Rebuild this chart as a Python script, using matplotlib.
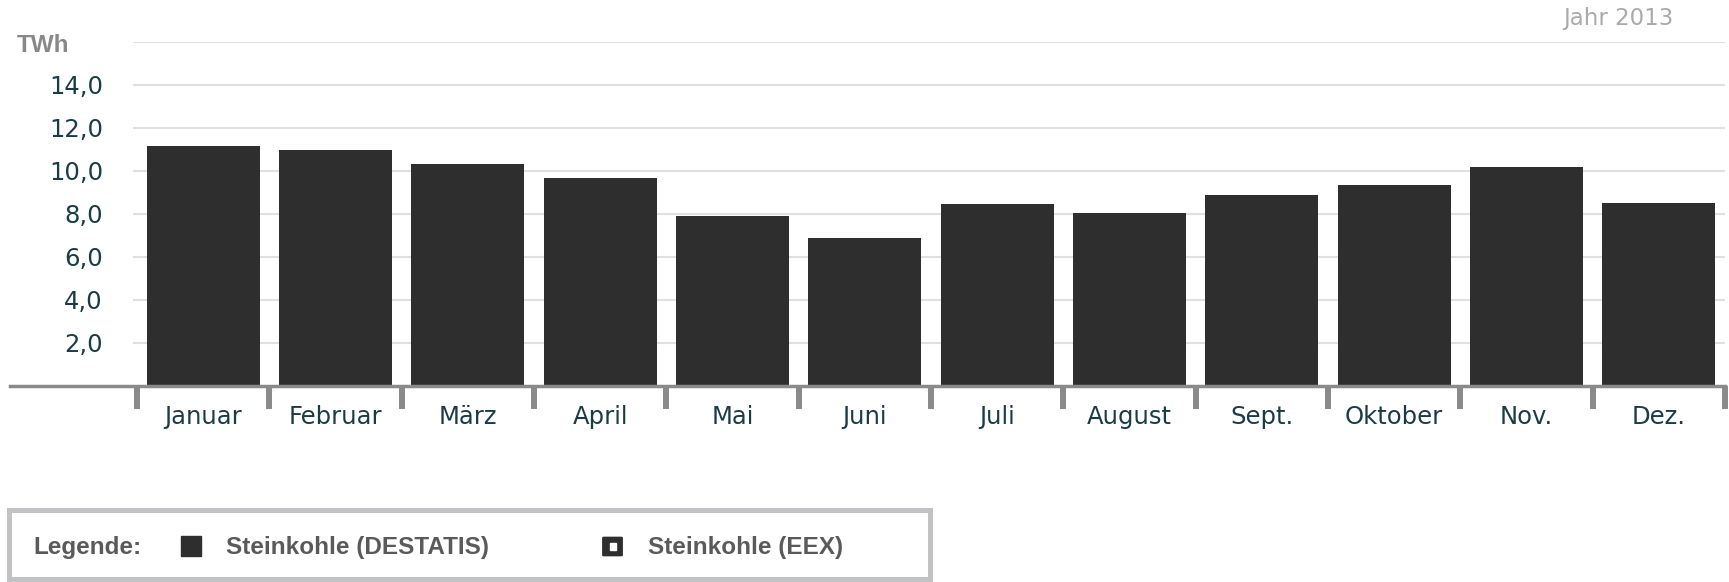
import matplotlib.pyplot as plt
from matplotlib.patches import Rectangle, FancyBboxPatch

# Steinkohle (DESTATIS), Jahr 2013, TWh
months = ["Januar", "Februar", "März", "April", "Mai", "Juni",
          "Juli", "August", "Sept.", "Oktober", "Nov.", "Dez."]
values = [11.16, 10.98, 10.33, 9.68, 7.91, 6.88,
          8.47, 8.05, 8.88, 9.35, 10.20, 8.49]
y_ticks = [2, 4, 6, 8, 10, 12, 14]
y_labels = ["2,0", "4,0", "6,0", "8,0", "10,0", "12,0", "14,0"]
legend_labels = ["Steinkohle (DESTATIS)", "Steinkohle (EEX)"]

W, H = 1729, 582
BAR = "#2e2e2e"
AXIS = "#8a8a8a"
GRID = "#e0e0e0"
TEAL = "#1b3c46"


def fx(px):
    return px / W


def fy(px):
    return 1 - px / H


fig = plt.figure(figsize=(W / 100, H / 100), dpi=100)

# axes: axis line runs from x=9.6 px to 1725 px, zero at y=386, 16 at y=42
ax = fig.add_axes([fx(9.6), fy(386), fx(1725 - 9.6), (386 - 42) / H])
cat_w = (1725 - 137) / 12
ax.set_xlim(-0.5 - (137 - 9.6) / cat_w, 11.5)
ax.set_ylim(0, 16)

# gridlines
ax.hlines(y_ticks + [16], -0.5 - 4 / cat_w, 11.5, colors=GRID, lw=1.5, zorder=0)

x = list(range(len(months)))
ax.bar(x, values, width=0.855, color=BAR, zorder=2)

for s in ["top", "right", "left"]:
    ax.spines[s].set_visible(False)
ax.spines["bottom"].set_color(AXIS)
ax.spines["bottom"].set_linewidth(2.5)
ax.spines["bottom"].set_zorder(3)

ax.set_yticks([])
ax.set_xticks([i - 0.5 for i in range(13)])
ax.set_xticklabels([])
ax.tick_params(axis="x", direction="out", length=16.5, width=4.3, color=AXIS)

# month labels
for i, m in enumerate(months):
    ax.text(i, -(424 - 386) / 344, m, transform=ax.get_xaxis_transform(),
            ha="center", va="baseline", fontsize=17.5, color=TEAL,
            family="DejaVu Sans")

# y labels
for v, lab in zip(y_ticks, y_labels):
    ax.text(-0.5 - (137 - 103) / cat_w, v - 8.7 / 21.5, lab, ha="right",
            va="baseline", fontsize=17.5, color=TEAL, family="DejaVu Sans",
            clip_on=False)

fig.text(fx(17), fy(51.7), "TWh", ha="left", va="baseline", fontsize=17.5,
         fontweight="bold", color="#888888", family="Liberation Sans")
fig.text(fx(1673), fy(25), "Jahr 2013", ha="right", va="baseline",
         fontsize=16.5, color="#aaaaaa", family="DejaVu Sans")

# legend box
fig.patches.append(Rectangle((fx(8.5), fy(578.5)), fx(929.5 - 8.5),
                             (578.5 - 509.5) / H, transform=fig.transFigure,
                             fill=False, ec="#c0c2c4", lw=3.6))
lk = dict(ha="left", va="baseline", fontsize=17.5, fontweight="bold",
          color="#5a5a5a", family="Liberation Sans")
fig.text(fx(33), fy(554.3), "Legende:", **lk)
fig.patches.append(Rectangle((fx(181), fy(556)), fx(20), 20 / H,
                             transform=fig.transFigure, color=BAR))
fig.text(fx(226), fy(554.3), legend_labels[0], **lk)
fig.patches.append(FancyBboxPatch((fx(604), fy(555)), fx(17), 17 / H,
                                  boxstyle="round,pad=0.0005",
                                  transform=fig.transFigure, fc=BAR, ec=BAR,
                                  lw=1.5))
fig.patches.append(Rectangle((fx(609.5), fy(549.5)), fx(6.5), 6.5 / H,
                             transform=fig.transFigure, color="white"))
fig.text(fx(648), fy(554.3), legend_labels[1], **lk)

fig.savefig("out.png", dpi=100)
